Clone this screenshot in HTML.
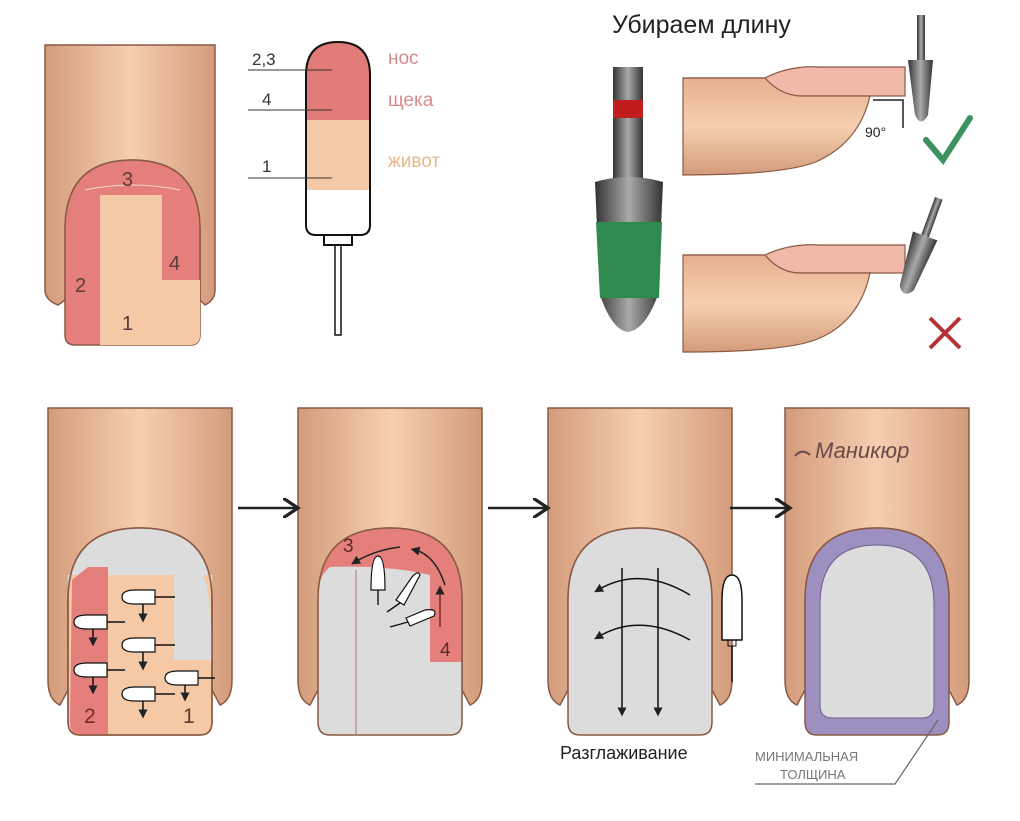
<!DOCTYPE html>
<html><head><meta charset="utf-8"><style>
html,body{margin:0;padding:0;background:#fff;}
svg{display:block}
text{font-family:"Liberation Sans",sans-serif;}
</style></head><body>
<svg width="1020" height="821" viewBox="0 0 1020 821" xmlns="http://www.w3.org/2000/svg">
<defs>
<linearGradient id="sk" x1="0" x2="1" y1="0" y2="0">
<stop offset="0" stop-color="#d39c7c"/><stop offset="0.5" stop-color="#f6cfb0"/><stop offset="1" stop-color="#d39c7c"/></linearGradient>
<linearGradient id="skv" x1="0" x2="0" y1="0" y2="1">
<stop offset="0" stop-color="#e6b08f"/><stop offset="0.5" stop-color="#f6cfb0"/><stop offset="1" stop-color="#d39c7c"/></linearGradient>
<linearGradient id="met" x1="0" x2="1"><stop offset="0" stop-color="#333"/><stop offset="0.5" stop-color="#aaa"/><stop offset="1" stop-color="#333"/></linearGradient>
<marker id="ah" markerWidth="8" markerHeight="8" refX="6" refY="4" orient="auto"><path d="M0,0 L6,4 L0,8" fill="none" stroke="#222" stroke-width="1.3"/></marker>
<marker id="ahs" markerWidth="6" markerHeight="6" refX="3" refY="3" orient="auto"><path d="M0,0 L6,3 L0,6z" fill="#222"/></marker>
</defs>

<!-- Top-left finger -->
<path d="M45,45 H215 V290 Q215,300 205,305 L200,300 V230 Q200,160 132,160 Q65,160 65,230 V300 L58,305 Q45,300 45,290Z" fill="url(#sk)" stroke="#8a5a45" stroke-width="1.5"/>
<path d="M65,230 Q65,160 132,160 Q200,160 200,230 V335 Q200,345 190,345 H75 Q65,345 65,335Z" fill="#e47f7c" stroke="#8a5a45" stroke-width="1.5"/>
<path d="M100,195 H162 V280 H200 V335 Q200,345 190,345 H100Z" fill="#f5c9a5"/>
<path d="M85,190 Q132,180 180,190" fill="none" stroke="#f5d8cc" stroke-width="1"/>
<text x="122" y="186" font-size="20" fill="#5a3a3a">3</text>
<text x="75" y="292" font-size="20" fill="#5a3a3a">2</text>
<text x="169" y="270" font-size="20" fill="#5a3a3a">4</text>
<text x="122" y="330" font-size="20" fill="#5a3a3a">1</text>

<!-- middle bit diagram -->
<path d="M306,120 V75 Q306,42 338,42 Q370,42 370,75 V120Z" fill="#e07b78"/>
<rect x="306" y="120" width="64" height="70" fill="#f5c9a5"/>
<path d="M306,42 M306,75 Q306,42 338,42 Q370,42 370,75 V225 Q370,235 360,235 H316 Q306,235 306,225Z" fill="none" stroke="#111" stroke-width="2"/>
<rect x="324" y="235" width="28" height="10" fill="none" stroke="#111" stroke-width="2"/>
<path d="M335,245 V335 H341 V245" fill="none" stroke="#111" stroke-width="1.5"/>
<g stroke="#333" stroke-width="1"><line x1="248" y1="70" x2="332" y2="70"/><line x1="248" y1="110" x2="332" y2="110"/><line x1="248" y1="178" x2="332" y2="178"/></g>
<text x="252" y="65" font-size="17" fill="#333">2,3</text>
<text x="262" y="105" font-size="17" fill="#333">4</text>
<text x="262" y="172" font-size="17" fill="#333">1</text>
<text x="388" y="64" font-size="19" fill="#d98c8a">нос</text>
<text x="388" y="106" font-size="19" fill="#d98c8a">щека</text>
<text x="388" y="167" font-size="19" fill="#e6b88c">живот</text>

<!-- top right -->
<text x="612" y="33" font-size="25" fill="#222">Убираем длину</text>
<rect x="613" y="67" width="30" height="113" fill="url(#met)"/>
<rect x="613" y="100" width="30" height="18" fill="#c21d1d"/>
<path d="M595,182 Q628,172 663,182 L658,295 Q645,330 628,332 Q612,330 600,295Z" fill="url(#met)"/>
<path d="M596,222 H662 L659,298 H600Z" fill="#2e8a4e"/>

<path d="M683,78 H765 Q780,95 800,96 H905 V67 H820 Q790,65 765,78" fill="#f2b9aa" stroke="#8a5a45" stroke-width="1.2"/>
<path d="M683,78 H765 Q780,95 800,96 H870 Q860,140 820,160 Q790,175 683,175Z" fill="url(#skv)" stroke="#8a5a45" stroke-width="1.2"/>
<path d="M873,100 H903 V128" fill="none" stroke="#222" stroke-width="1.5"/>
<text x="865" y="137" font-size="14" fill="#222">90°</text>
<rect x="917" y="15" width="8" height="45" fill="url(#met)"/>
<path d="M908,60 H933 L928,115 Q921,128 915,115Z" fill="url(#met)"/>
<path d="M926,140 L943,160 L970,118" fill="none" stroke="#3c9260" stroke-width="6" stroke-linecap="round"/>

<path d="M683,255 H765 Q780,273 800,273 H905 V245 H820 Q790,243 765,255" fill="#f2b9aa" stroke="#8a5a45" stroke-width="1.2"/>
<path d="M683,255 H765 Q780,273 800,273 H870 Q860,320 820,338 Q790,352 683,352Z" fill="url(#skv)" stroke="#8a5a45" stroke-width="1.2"/>
<g transform="rotate(20 920 250)"><rect x="916" y="195" width="8" height="40" fill="url(#met)"/><path d="M907,235 H933 L928,290 Q920,302 913,290Z" fill="url(#met)"/></g>
<path d="M930,318 L960,348 M960,318 L930,348" stroke="#b23434" stroke-width="4"/>

<!-- bottom fingers -->
<g id="f1">
<path d="M48,408 H232 V680 Q232,700 220,705 L212,690 V600 Q212,528 140,528 Q68,528 68,600 V690 L60,705 Q48,700 48,680Z" fill="url(#sk)" stroke="#8a5a45" stroke-width="1.5"/>
</g>
<use href="#f1" x="250"/><use href="#f1" x="500"/><use href="#f1" x="737"/>

<!-- nail 1 -->
<path d="M68,600 Q68,528 140,528 Q212,528 212,600 V722 Q212,735 200,735 H80 Q68,735 68,722Z" fill="#f5c9a5" stroke="#8a5a45" stroke-width="1.5"/>
<path d="M68,600 Q68,528 140,528 Q212,528 212,600 V575 H68Z" fill="#dcdcdc"/>
<path d="M88,563 Q90,540 140,537 Q190,540 195,563 Q140,575 88,563Z" fill="#dcdcdc"/>
<path d="M72,580 L88,567 H108 V735 H80 Q70,735 70,722Z" fill="#e47f7c"/>
<path d="M174,570 H200 Q212,585 212,660 H174Z" fill="#dcdcdc"/>
<path d="M68,600 Q68,528 140,528 Q212,528 212,600 V722 Q212,735 200,735 H80 Q68,735 68,722Z" fill="none" stroke="#8a5a45" stroke-width="1.5"/>
<g fill="#fff" stroke="#111" stroke-width="1.2">
<path d="M122,597 Q122,590 135,590 H155 V604 H135 Q122,604 122,597Z"/><path d="M74,622 Q74,615 87,615 H107 V629 H87 Q74,629 74,622Z"/>
<path d="M122,645 Q122,638 135,638 H155 V652 H135 Q122,652 122,645Z"/><path d="M74,670 Q74,663 87,663 H107 V677 H87 Q74,677 74,670Z"/>
<path d="M165,678 Q165,671 178,671 H198 V685 H178 Q165,685 165,678Z"/><path d="M122,694 Q122,687 135,687 H155 V701 H135 Q122,701 122,694Z"/>
</g>
<g stroke="#111" stroke-width="1.5"><line x1="155" y1="597" x2="175" y2="597"/><line x1="107" y1="622" x2="125" y2="622"/><line x1="155" y1="645" x2="175" y2="645"/><line x1="107" y1="670" x2="125" y2="670"/><line x1="198" y1="678" x2="215" y2="678"/><line x1="155" y1="694" x2="175" y2="694"/>
<line x1="143" y1="604" x2="143" y2="618" marker-end="url(#ahs)"/><line x1="93" y1="629" x2="93" y2="642" marker-end="url(#ahs)"/><line x1="143" y1="652" x2="143" y2="666" marker-end="url(#ahs)"/><line x1="93" y1="677" x2="93" y2="690" marker-end="url(#ahs)"/><line x1="185" y1="685" x2="185" y2="697" marker-end="url(#ahs)"/><line x1="143" y1="701" x2="143" y2="714" marker-end="url(#ahs)"/></g>
<text x="84" y="723" font-size="21" fill="#7a2828">2</text>
<text x="183" y="723" font-size="21" fill="#5a3a2a">1</text>

<!-- nail 2 -->
<path d="M318,600 Q318,528 390,528 Q462,528 462,600 V722 Q462,735 450,735 H330 Q318,735 318,722Z" fill="#dcdcdc"/>
<path d="M318,600 Q318,528 390,528 Q462,528 462,600 V662 H430 V575 Q390,565 330,567 Q320,575 318,590Z" fill="#e47f7c"/>
<path d="M318,600 Q318,528 390,528 Q462,528 462,600 V722 Q462,735 450,735 H330 Q318,735 318,722Z" fill="none" stroke="#8a5a45" stroke-width="1.5"/>
<line x1="356" y1="570" x2="356" y2="735" stroke="#a77" stroke-width="1"/>
<path d="M445,585 Q435,555 415,550" fill="none" stroke="#222" stroke-width="1.5" marker-end="url(#ahs)"/>
<path d="M400,547 Q375,550 355,562" fill="none" stroke="#222" stroke-width="1.5" marker-end="url(#ahs)"/>
<line x1="440" y1="627" x2="440" y2="590" stroke="#7a2828" stroke-width="1.5" marker-end="url(#ahs)"/>
<text x="343" y="552" font-size="19" fill="#5a2a2a">3</text>
<text x="440" y="656" font-size="19" fill="#5a2a2a">4</text>
<g fill="#fff" stroke="#111" stroke-width="1.2"><path d="M371,590 Q371,556 378,556 Q385,556 385,590Z"/>
<path d="M396,600 L412,577 Q418,570 420,575 L404,605Z"/><path d="M406,618 L425,610 Q438,608 434,616 L410,626Z"/></g>
<g stroke="#111" stroke-width="1.4"><line x1="378" y1="590" x2="378" y2="605"/><line x1="400" y1="603" x2="387" y2="612"/><line x1="408" y1="622" x2="390" y2="627"/></g>

<!-- nail 3 -->
<path d="M568,600 Q568,528 640,528 Q712,528 712,600 V722 Q712,735 700,735 H580 Q568,735 568,722Z" fill="#dcdcdc" stroke="#8a5a45" stroke-width="1.5"/>
<g stroke="#111" stroke-width="1.5" fill="none"><line x1="622" y1="568" x2="622" y2="712" marker-end="url(#ahs)"/><line x1="658" y1="568" x2="658" y2="712" marker-end="url(#ahs)"/>
<path d="M690,595 Q640,565 598,590" marker-end="url(#ahs)"/><path d="M690,640 Q640,612 598,637" marker-end="url(#ahs)"/></g>
<path d="M722,600 Q722,575 732,575 Q742,575 742,600 V640 H722Z" fill="#fff" stroke="#111" stroke-width="1.5"/>
<rect x="728" y="640" width="8" height="6" fill="none" stroke="#111"/><line x1="732" y1="646" x2="732" y2="682" stroke="#111" stroke-width="1.5"/>
<text x="560" y="759" font-size="18" fill="#222">Разглаживание</text>

<!-- nail 4 -->
<path d="M805,600 Q805,528 877,528 Q949,528 949,600 V722 Q949,735 937,735 H817 Q805,735 805,722Z" fill="#9d8fc0" stroke="#8a5a45" stroke-width="1.5"/>
<path d="M820,605 Q820,545 877,545 Q934,545 934,605 V705 Q934,718 922,718 H832 Q820,718 820,705Z" fill="#dcdcdc" stroke="#6e5e90" stroke-width="1"/>
<text x="815" y="458" font-size="22" font-style="italic" font-family="Liberation Serif,serif" fill="#6a4a4a">Маникюр</text>
<path d="M795,456 Q802,448 810,455" fill="none" stroke="#6a4a4a" stroke-width="2"/>
<text x="755" y="761" font-size="13" fill="#777">МИНИМАЛЬНАЯ</text>
<text x="780" y="779" font-size="13" fill="#777">ТОЛЩИНА</text>
<path d="M755,784 H895 L938,720" fill="none" stroke="#666" stroke-width="1.2"/>

<!-- arrows -->
<g stroke="#222" stroke-width="2.5"><line x1="238" y1="508" x2="298" y2="508" marker-end="url(#ah)"/><line x1="488" y1="508" x2="548" y2="508" marker-end="url(#ah)"/><line x1="730" y1="508" x2="790" y2="508" marker-end="url(#ah)"/></g>
</svg>
</body></html>
